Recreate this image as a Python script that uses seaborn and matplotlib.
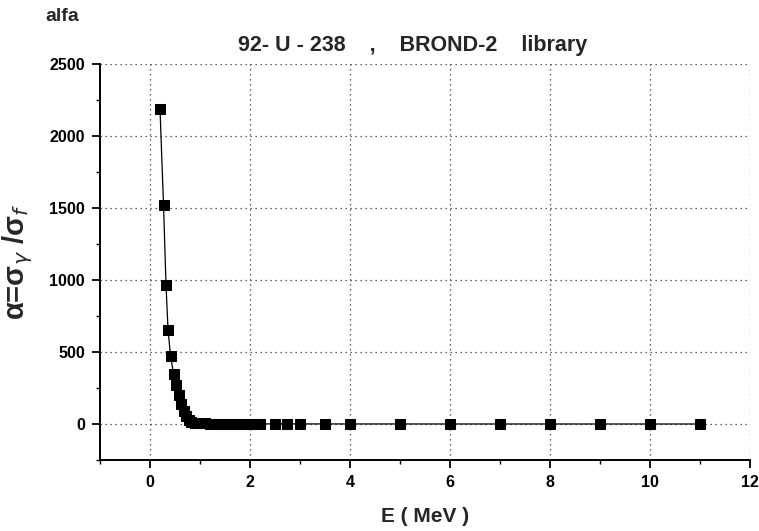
import matplotlib
matplotlib.use("Agg")
import matplotlib.pyplot as plt
import seaborn as sns
import pandas as pd
from matplotlib.ticker import MultipleLocator

# Data
energy_mev = [0.2, 0.27, 0.32, 0.36, 0.41, 0.47, 0.52, 0.57, 0.62, 0.67, 0.72,
              0.77, 0.82, 0.9, 1.0, 1.1, 1.2, 1.3, 1.4, 1.5, 1.6, 1.7, 1.8,
              1.9, 2.0, 2.1, 2.2, 2.5, 2.75, 3.0, 3.5, 4.0, 5.0, 6.0, 7.0,
              8.0, 9.0, 10.0, 11.0]
alpha = [2185, 1520, 965, 655, 475, 350, 270, 200, 140, 90, 55,
         30, 15, 8, 5, 4, 3, 3, 2, 2, 2, 1.5, 1.5,
         1.2, 1.2, 1.0, 1.0, 0.8, 0.7, 0.6, 0.5, 0.4, 0.3, 0.2, 0.2,
         0.15, 0.1, 0.1, 0.1]
x_ticks = [0, 2, 4, 6, 8, 10, 12]
y_ticks = [0, 500, 1000, 1500, 2000, 2500]

df = pd.DataFrame({"E": energy_mev, "alpha": alpha})

sns.set_style("white")
plt.rcParams['font.family'] = ['Liberation Sans', 'DejaVu Sans']

fig = plt.figure(figsize=(7.59, 5.31), dpi=100)
ax = fig.add_axes([0.1318, 0.1337, 0.8562, 0.7458])

sns.lineplot(data=df, x="E", y="alpha", ax=ax, color="black", linewidth=0.9,
             marker="s", markersize=7.5, markeredgecolor="black",
             markerfacecolor="black", sort=False)

ax.set_xlim(-1, 12)
ax.set_ylim(-250, 2500)
ax.set_xticks(x_ticks)
ax.set_yticks(y_ticks)
ax.xaxis.set_minor_locator(MultipleLocator(1))
ax.yaxis.set_minor_locator(MultipleLocator(250))
ax.grid(True, which="major", linestyle=(0, (1, 3)), color="#333333", linewidth=0.9)

for s in ["top", "right"]:
    ax.spines[s].set_visible(False)
for s in ["left", "bottom"]:
    ax.spines[s].set_color("black")
    ax.spines[s].set_linewidth(1.4)

ax.tick_params(axis="both", which="major", direction="out", length=6, width=1.3,
               colors="black", labelsize=11.5, pad=5, left=True, bottom=True)
ax.tick_params(axis="both", which="minor", direction="out", length=3, width=1.0,
               colors="black", left=True, bottom=True)
for lbl in ax.get_xticklabels() + ax.get_yticklabels():
    lbl.set_fontweight("bold")

ax.set_xlabel("E ( MeV )", fontsize=15, fontweight="bold", labelpad=12)
ax.set_ylabel(r"α=σ$_\gamma$ /σ$_f$", fontsize=21, fontweight="bold", labelpad=10)

fig.text(0.543, 0.915, "92- U - 238    ,    BROND-2    library", ha="center",
         va="center", fontsize=15.5, fontweight="bold")
fig.text(0.06, 0.985, "alfa", ha="left", va="top", fontsize=14, fontweight="bold")

fig.savefig("out.png", dpi=100)
